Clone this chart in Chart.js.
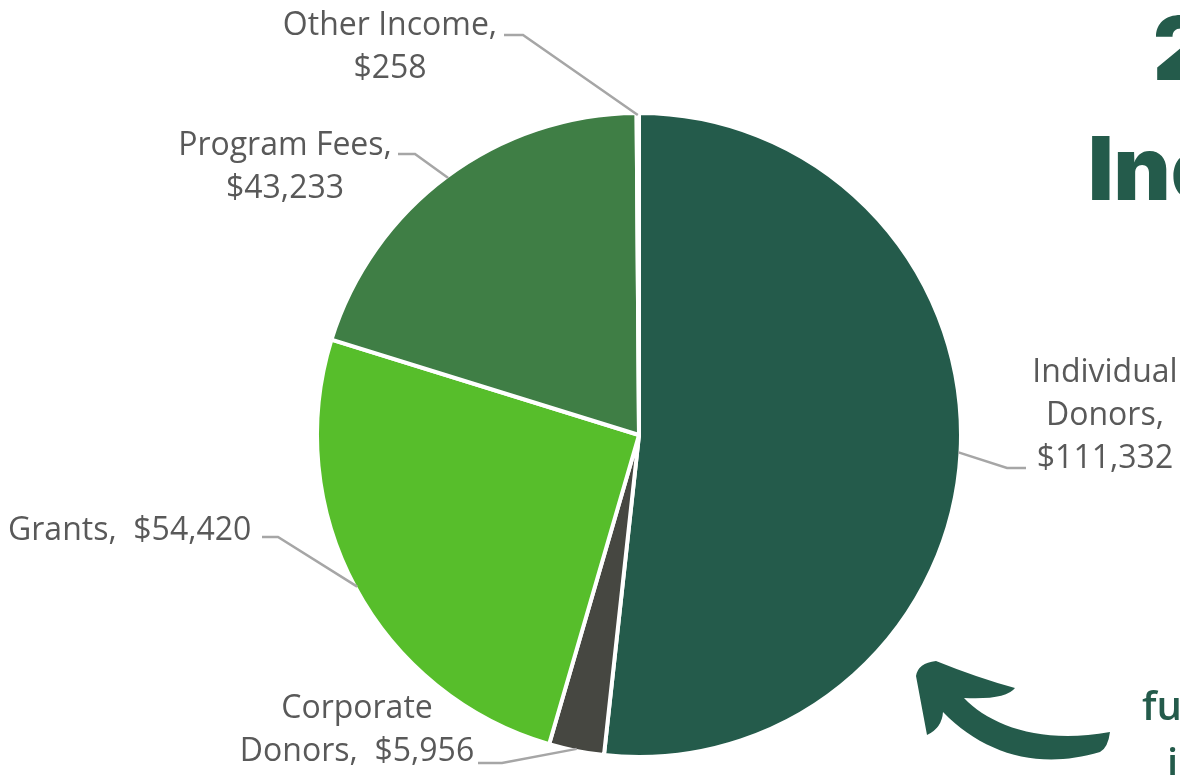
<!DOCTYPE html>
<html>
<head>
<meta charset="utf-8">
<script src="https://cdn.jsdelivr.net/npm/chart.js@4.4.1/dist/chart.umd.min.js"></script>
<style>
  html, body { margin: 0; padding: 0; background: #fff; }
</style>
</head>
<body>
<canvas id="income_chart" width="1180" height="775"></canvas>
<script>
// data
const categories = ['Individual Donors', 'Corporate Donors', 'Grants', 'Program Fees', 'Other Income'];
const amounts = [111332, 5956, 54420, 43233, 258];
const sliceColors = ['#245B4B', '#464741', '#57BE2B', '#3F7E45', '#FFFFFF'];

// where each data label sits (wrap = words per line)
const labelLayout = [
	{wrap: [1, 1, 1], align: 'center', x: 1105, y: 382, elbow: [1007, 468], end: [1026, 468]},
	{wrap: [1, 2], align: 'center', x: 357, y: 718, elbow: [502, 763], end: [478, 763]},
	{wrap: [2], align: 'left', x: 8, y: 540, elbow: [278, 537], end: [262, 537]},
	{wrap: [2, 1], align: 'center', x: 285, y: 155, elbow: [415, 154], end: [398, 154]},
	{wrap: [2, 1], align: 'center', x: 390, y: 35, elbow: [523, 35], end: [504, 35]}
];

function money(v) {
	return '$' + v.toLocaleString('en-US');
}

function labelLines(i) {
	const words = (categories[i] + ',').split(' ').concat([money(amounts[i])]);
	const lines = [];
	let k = 0;
	labelLayout[i].wrap.forEach(function (n) {
		let s = '';
		for (let j = 0; j < n; j++) {
			const w = words[k++];
			if (j > 0) s += w.charAt(0) === '$' ? '  ' : ' ';
			s += w;
		}
		lines.push(s);
	});
	return lines;
}

const dataLabels = {
	id: 'dataLabels',
	afterDatasetsDraw(chart) {
		const ctx = chart.ctx;
		const meta = chart.getDatasetMeta(0);
		ctx.save();
		meta.data.forEach(function (arc, i) {
			const p = arc.getProps(['x', 'y', 'startAngle', 'endAngle', 'outerRadius'], true);
			const a = (p.startAngle + p.endAngle) / 2;
			const r = p.outerRadius - 2;
			const lay = labelLayout[i];
			ctx.strokeStyle = '#A6A6A6';
			ctx.lineWidth = 2.5;
			ctx.beginPath();
			ctx.moveTo(p.x + r * Math.cos(a), p.y + r * Math.sin(a));
			ctx.lineTo(lay.elbow[0], lay.elbow[1]);
			ctx.lineTo(lay.end[0], lay.end[1]);
			ctx.stroke();
			ctx.fillStyle = '#595959';
			ctx.font = '32px "Open Sans"';
			ctx.textAlign = lay.align;
			ctx.textBaseline = 'alphabetic';
			labelLines(i).forEach(function (line, n) {
				ctx.fillText(line, lay.x, lay.y + n * 43);
			});
		});
		ctx.restore();
	}
};

// title, side note and arrow from the infographic (cropped at the right edge)
const decor = {
	id: 'decor',
	afterDraw(chart) {
		const ctx = chart.ctx;
		ctx.save();
		ctx.fillStyle = '#245B4B';
		ctx.textAlign = 'left';
		ctx.textBaseline = 'alphabetic';
		ctx.font = '900 88px Inter';
		ctx.fillText('2023', 1153, 80);
		ctx.fillText('Income', 1088, 200);
		ctx.font = '600 40px "Open Sans"';
		ctx.fillText('funding', 1142, 720);
		ctx.fillText('in', 1167, 777);

		ctx.beginPath();
		ctx.moveTo(916, 676);
		ctx.quadraticCurveTo(918, 663, 936, 661);
		ctx.quadraticCurveTo(978, 678, 1015, 688);
		ctx.quadraticCurveTo(1006, 700, 964, 698);
		ctx.bezierCurveTo(990, 725, 1040, 745, 1110, 732);
		ctx.quadraticCurveTo(1108, 748, 1100, 752);
		ctx.bezierCurveTo(1040, 770, 985, 755, 943, 712);
		ctx.quadraticCurveTo(942, 728, 927, 735);
		ctx.closePath();
		ctx.fill();
		ctx.restore();
	}
};

new Chart(document.getElementById('income_chart'), {
	type: 'pie',
	data: {
		labels: categories,
		datasets: [{
			data: amounts,
			backgroundColor: sliceColors,
			borderColor: '#FFFFFF',
			borderWidth: 4,
			hoverBorderWidth: 4
		}]
	},
	options: {
		responsive: false,
		animation: false,
		devicePixelRatio: 1,
		layout: {padding: {left: 315, right: 217, top: 111, bottom: 16}},
		plugins: {
			legend: {display: false},
			tooltip: {enabled: false}
		}
	},
	plugins: [dataLabels, decor]
});
</script>
</body>
</html>
